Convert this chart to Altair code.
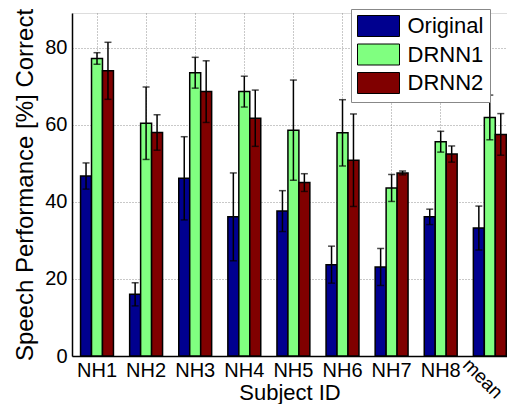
import altair as alt
import pandas as pd

subjects = ["NH1", "NH2", "NH3", "NH4", "NH5", "NH6", "NH7", "NH8", "mean"]
series = ["Original", "DRNN1", "DRNN2"]
colors = ["#00008F", "#80FF80", "#800000"]

original = [46.7, 16.0, 46.1, 36.1, 37.6, 23.7, 23.1, 36.1, 33.2]
original_err = [3.4, 3.0, 10.8, 11.4, 5.3, 4.8, 4.8, 2.0, 5.7]
drnn1 = [77.2, 60.4, 73.5, 68.6, 58.6, 57.9, 43.6, 55.6, 61.9]
drnn1_err = [1.5, 9.4, 4.0, 4.0, 13.0, 8.6, 3.5, 2.7, 5.8]
drnn2 = [74.0, 58.0, 68.6, 61.7, 45.0, 50.8, 47.5, 52.4, 57.5]
drnn2_err = [7.4, 4.6, 8.0, 7.3, 2.3, 12.0, 0.5, 2.1, 5.4]

rows = []
for name, vals, errs in [("Original", original, original_err),
                         ("DRNN1", drnn1, drnn1_err),
                         ("DRNN2", drnn2, drnn2_err)]:
    for s, v, e in zip(subjects, vals, errs):
        rows.append({"subject": s, "series": name, "value": v,
                     "lo": v - e, "hi": v + e})
df = pd.DataFrame(rows)

font = "Liberation Sans"
xscale = alt.Scale(domain=subjects, paddingInner=0.33, paddingOuter=0.0947,
                   align=0.92)
yscale = alt.Scale(domain=[0, 89], nice=False)

x_axis = alt.Axis(
    title="Subject ID", labelAngle=0, bandPosition=0.5, grid=True,
    gridDash=[1, 2], gridColor="#777", gridWidth=0.8, ticks=False,
    domainColor="black", domainWidth=1.5,
    labelExpr="datum.value == 'mean' ? '' : datum.value",
    labelFontSize=20, titleFontSize=22, labelPadding=4,
    titleBaseline="alphabetic", titleY=43,
    labelColor="black", titleColor="black", labelFont=font, titleFont=font,
    titleFontWeight="normal")
y_axis = alt.Axis(
    title="Speech Performance [%] Correct", values=[0, 20, 40, 60, 80],
    grid=True, gridDash=[1, 2], gridColor="#777", gridWidth=0.8,
    ticks=False, domainColor="black", domainWidth=1.5,
    labelFontSize=20, titleFontSize=24, labelPadding=5, titlePadding=7,
    labelColor="black", titleColor="black", labelFont=font, titleFont=font,
    titleFontWeight="normal")

xo = alt.XOffset("series:N", sort=series, scale=alt.Scale(domain=series))

base = alt.Chart(df)

bars = base.mark_bar(stroke="black", strokeWidth=1.5).encode(
    x=alt.X("subject:N", sort=subjects, scale=xscale, axis=x_axis),
    xOffset=xo,
    y=alt.Y("value:Q", scale=yscale, axis=y_axis),
    color=alt.Color(
        "series:N", sort=series,
        scale=alt.Scale(domain=series, range=colors),
        legend=alt.Legend(
            title=None, orient="none", legendX=279, legendY=-4,
            symbolType="M-2,-1H2V1H-2Z", symbolSize=441,
            symbolStrokeColor="black", symbolStrokeWidth=1,
            symbolOpacity=1, labelFontSize=22, labelFont=font,
            labelColor="black", labelOffset=18, rowPadding=2.5,
            padding=6, strokeColor="#888", fillColor="white",
            symbolOffset=10.5)),
)

rules = base.mark_rule(color="black", strokeWidth=1.5).encode(
    x=alt.X("subject:N", sort=subjects, scale=xscale),
    xOffset=xo,
    y=alt.Y("lo:Q", scale=yscale),
    y2="hi:Q",
)

caps = base.transform_fold(["lo", "hi"], as_=["k", "cap"]).mark_tick(
    color="black", thickness=1.5, size=7, orient="horizontal").encode(
    x=alt.X("subject:N", sort=subjects, scale=xscale),
    xOffset=xo,
    y=alt.Y("cap:Q", scale=yscale),
)

mean_label = alt.Chart(pd.DataFrame({"subject": ["mean"], "pos": [-7.0],
                                     "label": ["mean"]})).mark_text(
    angle=45, align="center", baseline="middle", fontSize=19, font=font,
    color="black", dx=-8, dy=2).encode(
    x=alt.X("subject:N", sort=subjects, scale=xscale),
    y=alt.Y("pos:Q", scale=yscale),
    text="label:N",
)

chart = alt.layer(bars, rules, caps, mean_label).properties(
    width=435, height=343,
    autosize=alt.AutoSizeParams(type="none"),
    padding={"left": 64, "top": 5, "right": 0, "bottom": 48},
).configure_view(stroke=None).configure(font=font)

chart.save("out.html", embed_options={"renderer": "svg", "actions": False})
